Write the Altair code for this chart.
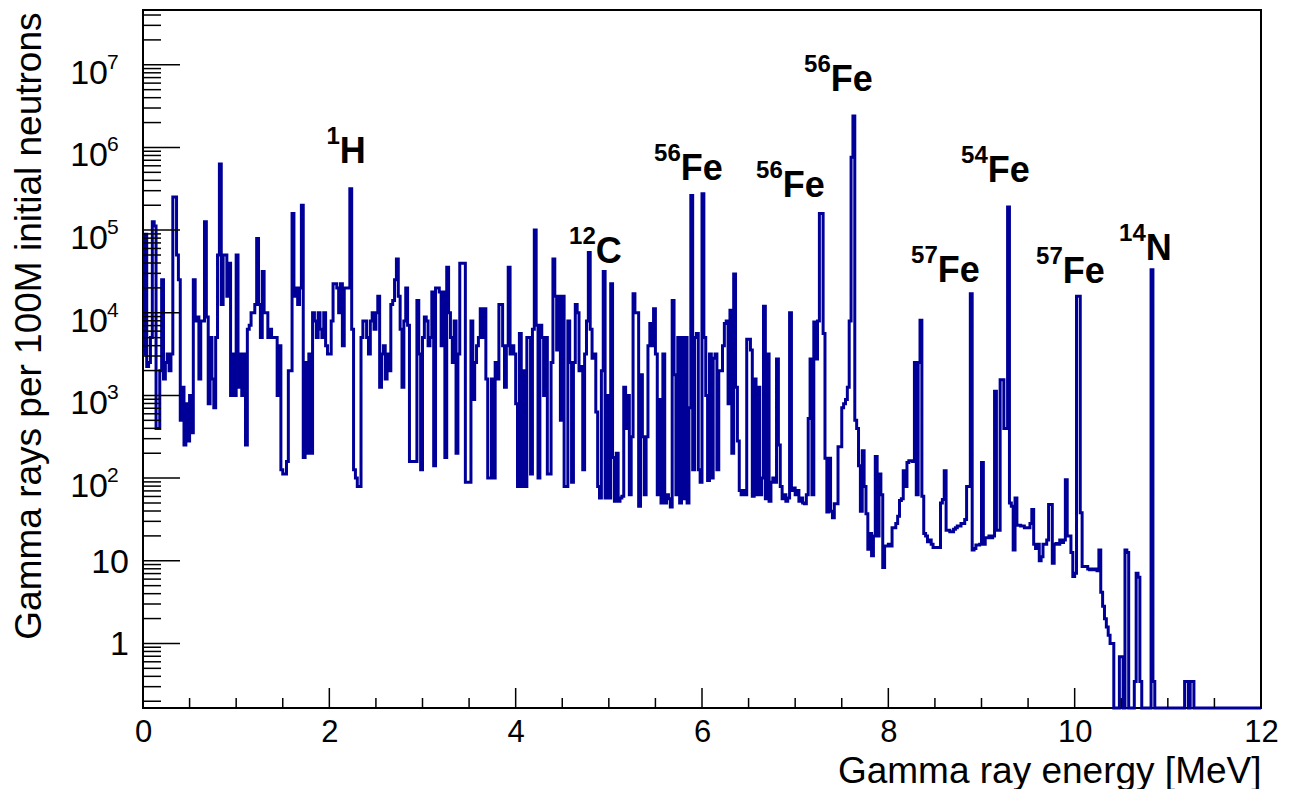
import altair as alt
import pandas as pd

N = None  # empty bin (zero counts)
BIN = 0.02  # MeV

# log10(gamma rays per 100M neutrons) for each 0.02 MeV bin, one array per MeV
lg_00 = [3.5, 4.95, 3.35, 3.4, 3.7, 5.1, 5.05, 2.6, 2.6, 3.3,
         4.4, 3.2, 3.4, 3.5, 3.3, 3.5, 5.4, 5.4, 4.7, 4.4,
         2.7, 3.1, 2.4, 2.9, 2.45, 3.0, 2.55, 4.4, 3.9, 3.95,
         3.2, 3.9, 3.9, 5.1, 3.95, 2.9, 3.7, 3.2, 2.85, 3.7,
         4.7, 5.8, 4.1, 4.7, 4.7, 4.2, 4.6, 3.0, 3.5, 3.0]
lg_01 = [4.7, 3.1, 3.5, 3.0, 3.5, 2.4, 3.8, 3.85, 4.0, 4.0,
         4.1, 4.9, 4.1, 3.7, 4.5, 4.0, 4.0, 3.7, 3.8, 3.7,
         3.7, 3.7, 3.0, 3.6, 2.1, 2.05, 2.05, 2.2, 3.3, 3.3,
         5.2, 4.2, 4.3, 4.1, 4.3, 5.3, 2.25, 3.4, 2.3, 3.5,
         2.3, 4.0, 3.9, 3.7, 4.0, 3.8, 3.7, 4.0, 3.6, 3.5]
lg_02 = [3.5, 3.9, 4.35, 4.35, 4.3, 4.0, 4.35, 3.6, 4.3, 4.3,
         4.3, 5.5, 3.8, 2.1, 2.0, 1.9, 1.9, 3.7, 3.9, 3.9,
         3.7, 3.5, 3.9, 4.0, 3.8, 4.0, 4.2, 3.1, 3.5, 3.6,
         3.2, 3.5, 3.3, 4.1, 4.15, 4.4, 4.65, 4.2, 3.8, 3.1,
         3.9, 4.3, 3.85, 2.2, 2.2, 2.2, 2.2, 4.15, 3.5, 2.1]
lg_03 = [3.7, 3.95, 3.9, 3.6, 3.7, 4.25, 2.15, 4.3, 4.3, 4.25,
         3.6, 4.25, 2.25, 4.55, 4.0, 3.7, 3.4, 3.9, 2.3, 3.5,
         4.6, 4.6, 4.6, 1.95, 1.95, 1.95, 3.9, 2.95, 3.4, 3.6,
         3.7, 4.05, 3.7, 4.05, 3.2, 2.0, 2.0, 3.2, 2.0, 3.4,
         3.2, 4.1, 4.1, 3.6, 3.1, 3.6, 4.55, 3.5, 3.6, 3.5]
lg_04 = [2.9, 1.9, 3.75, 1.9, 3.3, 1.9, 3.7, 3.7, 2.05, 3.8,
         5.0, 3.85, 2.0, 3.85, 3.7, 3.0, 3.7, 2.05, 2.05, 3.4,
         4.65, 4.2, 3.55, 4.2, 2.7, 4.2, 1.9, 1.9, 3.9, 3.4,
         1.95, 3.4, 4.1, 4.0, 3.3, 3.35, 2.1, 3.5, 3.9, 4.73,
         3.8, 3.45, 3.5, 2.8, 1.9, 1.76, 3.3, 4.5, 1.76, 3.0]
lg_05 = [1.76, 4.35, 2.25, 1.72, 2.3, 1.72, 1.76, 1.78, 3.1, 2.6,
         3.0, 1.8, 2.5, 4.23, 4.0, 4.0, 1.66, 3.25, 2.5, 1.8,
         2.5, 3.6, 3.87, 3.6, 4.05, 3.5, 1.8, 2.95, 1.7, 3.5,
         1.7, 1.8, 1.75, 1.65, 4.15, 3.25, 1.8, 3.7, 1.7, 3.7,
         1.75, 3.7, 1.7, 2.85, 5.42, 2.1, 3.7, 3.75, 2.1, 1.95]
lg_06 = [5.44, 3.7, 3.0, 1.97, 3.5, 2.0, 3.45, 3.5, 2.1, 3.3,
         3.3, 3.6, 3.87, 3.9, 2.9, 4.03, 2.3, 4.47, 3.1, 2.45,
         1.85, 1.8, 1.85, 1.8, 3.68, 3.68, 3.55, 1.78, 3.2, 1.8,
         3.1, 1.8, 2.0, 4.08, 1.75, 3.5, 1.72, 1.95, 2.0, 1.95,
         3.44, 2.4, 1.9, 1.75, 1.8, 1.72, 1.76, 4.0, 1.85, 1.88]
lg_07 = [1.8, 1.85, 1.72, 1.76, 1.7, 1.69, 1.8, 2.72, 3.44, 1.8,
         3.89, 3.44, 3.9, 5.2, 5.2, 3.75, 2.24, 1.59, 2.24, 1.6,
         1.52, 1.69, 1.69, 2.38, 2.38, 2.85, 2.9, 2.95, 3.1, 3.9,
         5.88, 6.38, 2.7, 2.6, 2.15, 1.6, 2.33, 1.9, 1.57, 1.14,
         1.33, 1.06, 1.3, 2.26, 1.3, 2.05, 1.8, 0.92, 1.18, 1.18]
lg_08 = [1.2, 1.18, 1.4, 1.4, 1.45, 1.54, 1.73, 1.75, 2.09, 1.9,
         2.19, 2.21, 2.21, 2.2, 3.4, 1.8, 3.4, 3.91, 1.78, 1.33,
         1.3, 1.23, 1.25, 1.2, 1.16, 1.16, 1.16, 1.16, 1.7, 1.74,
         2.09, 1.37, 1.37, 1.35, 1.35, 1.38, 1.4, 1.42, 1.42, 1.45,
         1.45, 1.5, 1.9, 1.9, 4.23, 1.13, 1.15, 1.19, 1.19, 1.2]
lg_09 = [2.19, 1.2, 1.28, 1.28, 1.3, 1.28, 1.3, 3.05, 1.37, 1.37,
         3.19, 3.19, 2.6, 2.6, 5.28, 1.7, 1.66, 1.13, 1.76, 1.43,
         1.43, 1.42, 1.42, 1.4, 1.4, 1.4, 1.45, 1.62, 1.2, 1.15,
         1.2, 1.0, 1.05, 1.2, 1.2, 1.25, 1.68, 1.68, 0.97, 1.2,
         1.21, 1.2, 1.25, 1.22, 1.25, 1.98, 1.3, 1.3, 1.1, 0.81]
lg_10 = [0.85, 4.2, 4.2, 1.58, 0.93, 0.93, 0.93, 0.9, 0.89, 0.9,
         0.89, 0.9, 0.88, 1.13, 0.62, 0.45, 0.3, 0.2, 0.1, 0.0,
         0.0, N, N, N, -0.16, -0.16, N, 1.13, 1.1, N,
         N, N, -0.46, 0.85, 0.8, -0.46, N, N, N, N,
         N, 4.52, -0.46, N, N, N, N, N, N, N]
lg_11 = [N, N, N, N, N, N, N, N, N, -0.46,
         -0.46, N, -0.46, -0.46, N, N, N, N, N, N,
         N, N, N, N, N, N, N, N, N, N,
         N, N, N, N, N, N, N, N, N, N,
         N, N, N, N, N, N, N, N, N, N]

# axis ticks and labels
x_major = [0, 2, 4, 6, 8, 10, 12]
x_minor = [0.5, 1, 1.5, 2.5, 3, 3.5, 4.5, 5, 5.5, 6.5, 7, 7.5,
           8.5, 9, 9.5, 10.5, 11, 11.5]
y_decades = [1, 10, 1e2, 1e3, 1e4, 1e5, 1e6, 1e7]
y_label_base = ["1", "10", "10", "10", "10", "10", "10", "10"]
y_label_exp = ["", "", "2", "3", "4", "5", "6", "7"]
y_minor_mult = [2, 3, 4, 5, 6, 7, 8, 9]
y_minor_decades = [0.1, 1, 10, 1e2, 1e3, 1e4, 1e5, 1e6, 1e7]

# isotope annotations (text anchor in data units)
ann_mass = ["1", "12", "56", "56", "56", "57", "54", "57", "14"]
ann_elem = ["H", "C", "Fe", "Fe", "Fe", "Fe", "Fe", "Fe", "N"]
ann_e = [2.112, 4.860, 5.772, 6.867, 7.382, 8.531, 9.067, 9.872, 10.763]
ann_lg = [5.815, 4.606, 5.609, 5.404, 6.686, 4.376, 5.586, 4.364, 4.642]

# ---------------------------------------------------------------
all_lg = []
for arr in [lg_00, lg_01, lg_02, lg_03, lg_04, lg_05, lg_06, lg_07,
            lg_08, lg_09, lg_10, lg_11]:
    assert len(arr) == 50, len(arr)
    all_lg.extend(arr)

counts = [0.0 if v is None else 10 ** v for v in all_lg]
energy = [round(i * BIN, 4) for i in range(len(counts))]
energy.append(12.0)
counts.append(counts[-1])
hist_df = pd.DataFrame({"energy": energy, "counts": counts})
hist_df["plot"] = hist_df["counts"].clip(lower=1e-4)

W, H = 1118, 698
BLUE = "#000099"
FONT = "Liberation Sans"

xscale = alt.Scale(domain=[0, 12], nice=False, zero=False)
yscale = alt.Scale(type="log", domain=[0.1656, 4.6e7], nice=False, clamp=True)

xaxis = alt.Axis(values=x_major, format="d", labelFont=FONT, labelFontSize=31,
                 labelColor="black", ticks=False, domain=False,
                 grid=False, labelPadding=9, labelFlush=False, labelOverlap=False,
                 title="Gamma ray energy [MeV]", titleFont=FONT, titleFontSize=37,
                 titleFontWeight="normal", titleColor="black", titleX=W, titleY=74,
                 titleAlign="right", titleBaseline="alphabetic")
yaxis = alt.Axis(labels=False, ticks=False, domain=False, grid=False,
                 title="Gamma rays per 100M initial neutrons", titleFont=FONT,
                 titleFontSize=37, titleFontWeight="normal", titleColor="black",
                 titleAngle=270, titleX=-103, titleY=2, titleAlign="right",
                 titleBaseline="alphabetic")


def X(field):
    return alt.X(field, scale=xscale, axis=xaxis)


def Y(field):
    return alt.Y(field, scale=yscale, axis=yaxis)


hist = alt.Chart(hist_df).mark_line(
    interpolate="step-after", color=BLUE, strokeWidth=3
).encode(x=X("energy:Q"), y=Y("plot:Q"))

xmaj_df = pd.DataFrame({"energy": x_major})
xmin_df = pd.DataFrame({"energy": x_minor})
ymaj_df = pd.DataFrame({"plot": y_decades})
ymin_df = pd.DataFrame({"plot": [m * d for d in y_minor_decades for m in y_minor_mult
                                 if 0.1656 <= m * d <= 4.6e7]})

tick_style = dict(color="black", strokeWidth=1.5)
xmaj = alt.Chart(xmaj_df).mark_rule(**tick_style).encode(
    x=X("energy:Q"), y=alt.value(H), y2=alt.value(H - 20))
xmin = alt.Chart(xmin_df).mark_rule(**tick_style).encode(
    x=X("energy:Q"), y=alt.value(H), y2=alt.value(H - 10))
ymaj = alt.Chart(ymaj_df).mark_rule(**tick_style).encode(
    y=Y("plot:Q"), x=alt.value(0), x2=alt.value(37))
ymin = alt.Chart(ymin_df).mark_rule(**tick_style).encode(
    y=Y("plot:Q"), x=alt.value(0), x2=alt.value(18))

ylab_df = pd.DataFrame({"plot": y_decades, "base": y_label_base, "exp": y_label_exp})
plain_df = ylab_df[ylab_df["exp"] == ""]
pow_df = ylab_df[ylab_df["exp"] != ""]

ylab_plain = alt.Chart(plain_df).mark_text(
    align="right", baseline="middle", font=FONT, fontSize=34, color="black", dy=2
).encode(y=Y("plot:Q"), x=alt.value(-14), text="base:N")
ylab_base = alt.Chart(pow_df).mark_text(
    align="right", baseline="middle", font=FONT, fontSize=34, color="black", dy=9
).encode(y=Y("plot:Q"), x=alt.value(-35), text="base:N")
ylab_exp = alt.Chart(pow_df).mark_text(
    align="left", baseline="alphabetic", font=FONT, fontSize=21, color="black", dy=4
).encode(y=Y("plot:Q"), x=alt.value(-36), text="exp:N")

ann_df = pd.DataFrame({"energy": ann_e, "plot": [10 ** v for v in ann_lg],
                       "mass": ann_mass, "elem": ann_elem})
ann_main = alt.Chart(ann_df).mark_text(
    align="left", baseline="alphabetic", font=FONT, fontSize=36,
    fontWeight="bold", color="black"
).encode(x=X("energy:Q"), y=Y("plot:Q"), text="elem:N")
ann_sup = alt.Chart(ann_df).mark_text(
    align="right", baseline="alphabetic", font=FONT, fontSize=24,
    fontWeight="bold", color="black", dy=-19
).encode(x=X("energy:Q"), y=Y("plot:Q"), text="mass:N")

chart = alt.layer(
    hist, xmaj, xmin, ymaj, ymin, ylab_plain, ylab_base, ylab_exp, ann_main, ann_sup
).properties(
    width=W, height=H,
    padding={"left": 143, "top": 10, "right": 35, "bottom": 81},
    autosize=alt.AutoSizeParams(type="none"),
    background="white",
).configure_view(stroke="black", strokeWidth=2)

chart.save("out.html", embed_options={"renderer": "svg", "actions": False})
